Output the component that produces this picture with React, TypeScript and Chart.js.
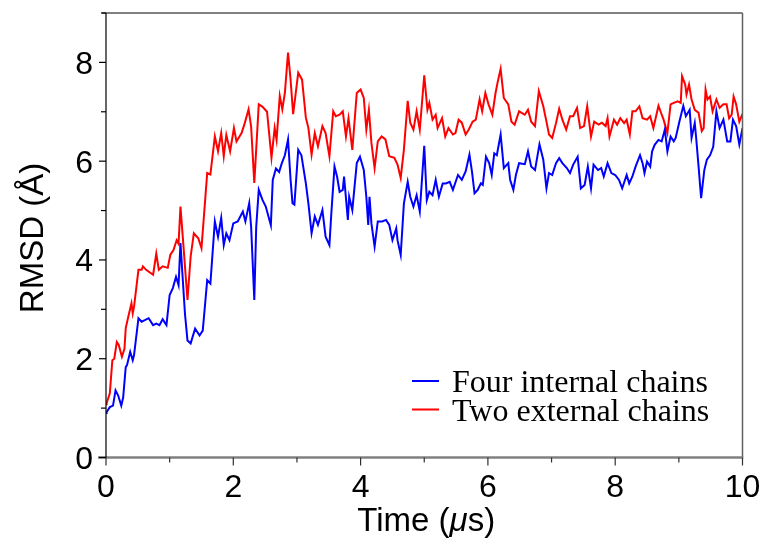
import React, { useEffect, useRef } from "react";
import { Chart, registerables } from "chart.js";

Chart.register(...registerables);

const redTimes = [
  0.0, 0.01, 0.06, 0.1, 0.13, 0.17, 0.2, 0.25, 0.29, 0.31, 0.35, 0.4, 0.42, 0.44, 0.51, 0.56, 0.58, 0.63, 0.74, 0.79,
  0.83, 0.89, 0.97, 1.01, 1.06, 1.11, 1.14, 1.17, 1.21, 1.28, 1.33, 1.38, 1.45, 1.5, 1.55, 1.59, 1.64, 1.71, 1.76, 1.81,
  1.85, 1.89, 1.95, 2.01, 2.05, 2.13, 2.18, 2.24, 2.28, 2.33, 2.4, 2.46, 2.53, 2.6, 2.65, 2.68, 2.73, 2.77, 2.81, 2.86,
  2.9, 2.94, 3.02, 3.08, 3.14, 3.18, 3.23, 3.28, 3.33, 3.4, 3.45, 3.51, 3.57, 3.61, 3.67, 3.72, 3.77, 3.81, 3.87, 3.94,
  4.0, 4.05, 4.09, 4.13, 4.17, 4.22, 4.27, 4.33, 4.39, 4.45, 4.53, 4.58, 4.63, 4.68, 4.74, 4.78, 4.83, 4.88, 4.93, 5.0,
  5.05, 5.08, 5.13, 5.18, 5.21, 5.28, 5.33, 5.38, 5.45, 5.49, 5.54, 5.59, 5.65, 5.7, 5.76, 5.81, 5.87, 5.91, 5.96, 6.01,
  6.07, 6.12, 6.15, 6.2, 6.25, 6.32, 6.37, 6.42, 6.49, 6.58, 6.63, 6.68, 6.74, 6.8, 6.87, 6.92, 6.96, 7.01, 7.07, 7.12,
  7.17, 7.23, 7.29, 7.34, 7.4, 7.45, 7.51, 7.56, 7.62, 7.67, 7.74, 7.79, 7.85, 7.88, 7.91, 7.98, 8.03, 8.08, 8.14, 8.18,
  8.23, 8.27, 8.32, 8.38, 8.43, 8.5, 8.55, 8.6, 8.68, 8.72, 8.76, 8.82, 8.87, 8.92, 8.98, 9.03, 9.05, 9.1, 9.12, 9.16,
  9.2, 9.25, 9.31, 9.36, 9.39, 9.42, 9.45, 9.49, 9.53, 9.59, 9.64, 9.7, 9.75, 9.79, 9.83, 9.86, 9.9, 9.95, 10.0,
];
const redValues = [
  1.08, 1.1, 1.3, 1.97, 2.0, 2.34, 2.28, 2.04, 2.2, 2.62, 2.85, 3.12, 2.92, 3.05, 3.8, 3.8, 3.87, 3.8, 3.7, 4.13,
  3.8, 3.87, 3.84, 4.1, 4.2, 4.4, 4.33, 5.08, 4.4, 3.19, 4.07, 4.54, 4.44, 4.24, 5.08, 5.76, 5.73, 6.5, 6.2, 6.57,
  6.1, 6.53, 6.2, 6.67, 6.4, 6.57, 6.77, 7.05, 6.7, 5.56, 7.15, 7.1, 7.0, 6.07, 6.67, 6.43, 7.32, 7.05, 7.38, 8.2,
  7.65, 6.95, 7.79, 7.65, 6.88, 6.67, 6.13, 6.57, 6.3, 6.71, 6.57, 6.1, 7.01, 6.91, 6.94, 7.01, 6.5, 6.87, 6.23, 7.38,
  7.45, 7.28, 6.64, 7.04, 6.37, 5.86, 6.4, 6.5, 6.44, 6.1, 6.07, 5.93, 5.66, 6.23, 7.22, 6.78, 6.64, 7.01, 6.64, 7.74,
  7.04, 7.18, 6.84, 6.94, 6.67, 6.87, 6.5, 6.67, 6.54, 6.57, 6.84, 6.78, 6.54, 6.64, 6.8, 6.84, 7.25, 7.01, 7.38, 7.15,
  6.94, 7.38, 7.58, 7.87, 7.28, 7.15, 6.8, 6.74, 7.01, 6.94, 7.04, 6.8, 6.71, 7.42, 7.11, 6.8, 6.54, 6.47, 6.77, 7.06,
  6.84, 6.64, 6.91, 6.91, 7.08, 6.67, 6.71, 7.11, 6.5, 6.8, 6.74, 6.78, 6.71, 6.87, 6.5, 6.84, 6.74, 6.87, 6.77, 6.84,
  6.54, 7.01, 7.01, 7.11, 6.87, 6.84, 6.91, 6.67, 7.12, 6.98, 6.84, 6.57, 7.15, 7.18, 7.21, 7.18, 7.72, 7.55, 7.35, 7.55,
  7.25, 7.04, 6.98, 6.61, 6.67, 7.45, 7.25, 7.31, 7.01, 7.25, 7.08, 7.15, 7.15, 6.87, 6.94, 7.31, 7.15, 6.8, 6.96,
];

const blueTimes = [
  0.0, 0.01, 0.06, 0.11, 0.15, 0.19, 0.24, 0.27, 0.31, 0.33, 0.38, 0.42, 0.44, 0.51, 0.56, 0.61, 0.67, 0.74, 0.79, 0.84,
  0.89, 0.95, 1.0, 1.05, 1.1, 1.14, 1.17, 1.2, 1.24, 1.28, 1.33, 1.4, 1.47, 1.52, 1.59, 1.64, 1.71, 1.76, 1.81, 1.85,
  1.89, 1.94, 2.0, 2.07, 2.15, 2.19, 2.25, 2.28, 2.33, 2.36, 2.4, 2.46, 2.51, 2.59, 2.62, 2.67, 2.72, 2.76, 2.81, 2.86,
  2.9, 2.93, 2.96, 3.02, 3.07, 3.14, 3.18, 3.23, 3.28, 3.33, 3.4, 3.45, 3.51, 3.54, 3.59, 3.63, 3.67, 3.72, 3.74, 3.8,
  3.82, 3.87, 3.9, 3.94, 3.99, 4.05, 4.09, 4.12, 4.14, 4.17, 4.22, 4.27, 4.34, 4.4, 4.45, 4.5, 4.56, 4.58, 4.63, 4.68,
  4.74, 4.78, 4.83, 4.88, 4.93, 5.0, 5.04, 5.08, 5.13, 5.18, 5.23, 5.29, 5.34, 5.4, 5.45, 5.53, 5.59, 5.65, 5.71, 5.75,
  5.79, 5.84, 5.89, 5.92, 5.97, 6.02, 6.06, 6.1, 6.14, 6.2, 6.25, 6.32, 6.35, 6.4, 6.44, 6.49, 6.58, 6.63, 6.68, 6.74,
  6.81, 6.87, 6.92, 6.96, 7.01, 7.07, 7.12, 7.17, 7.24, 7.29, 7.34, 7.41, 7.46, 7.52, 7.57, 7.62, 7.66, 7.73, 7.78, 7.82,
  7.88, 7.94, 8.0, 8.06, 8.11, 8.18, 8.22, 8.27, 8.32, 8.39, 8.43, 8.46, 8.5, 8.55, 8.58, 8.62, 8.68, 8.73, 8.78, 8.82,
  8.87, 8.92, 8.95, 9.01, 9.07, 9.11, 9.17, 9.2, 9.25, 9.27, 9.31, 9.35, 9.4, 9.44, 9.49, 9.54, 9.59, 9.64, 9.7, 9.76,
  9.81, 9.85, 9.9, 9.95, 10.0,
];
const blueValues = [
  0.9, 0.92, 1.02, 1.05, 1.36, 1.26, 1.05, 1.22, 1.83, 1.87, 2.14, 1.97, 2.07, 2.82, 2.75, 2.78, 2.82, 2.68, 2.71, 2.68,
  2.8, 2.68, 3.29, 3.43, 3.66, 3.49, 4.34, 3.73, 2.92, 2.37, 2.31, 2.61, 2.47, 2.57, 3.59, 3.52, 4.78, 4.47, 4.85, 4.3,
  4.54, 4.4, 4.74, 4.78, 4.98, 4.78, 5.15, 4.67, 3.19, 4.67, 5.42, 5.21, 5.08, 4.7, 5.62, 5.85, 5.78, 5.95, 6.12, 6.44,
  5.62, 5.15, 5.12, 6.23, 6.12, 5.55, 5.14, 4.54, 4.88, 4.71, 5.01, 4.47, 4.3, 4.94, 5.89, 5.69, 5.38, 5.42, 5.69, 4.81,
  5.28, 5.01, 5.42, 5.96, 6.09, 5.82, 5.28, 4.71, 5.28, 4.74, 4.27, 4.78, 4.78, 4.81, 4.71, 4.4, 4.64, 4.4, 4.1, 5.14,
  5.58, 5.28, 5.08, 5.31, 4.98, 6.31, 5.21, 5.38, 5.31, 5.62, 5.28, 5.55, 5.55, 5.58, 5.42, 5.72, 5.62, 5.79, 6.13, 5.79,
  5.35, 5.42, 5.55, 5.52, 6.09, 5.96, 5.72, 6.16, 6.12, 6.54, 5.86, 5.96, 5.62, 5.42, 5.72, 5.96, 5.94, 6.2, 5.89, 5.82,
  6.34, 6.03, 5.45, 5.76, 5.72, 5.96, 6.06, 5.96, 5.86, 5.76, 5.93, 6.09, 5.45, 5.52, 5.89, 5.45, 5.93, 5.82, 5.86, 5.69,
  5.96, 5.76, 5.72, 5.62, 5.45, 5.72, 5.55, 5.69, 5.89, 6.12, 5.96, 5.76, 5.99, 5.89, 6.2, 6.33, 6.43, 6.4, 6.64, 6.2,
  6.5, 6.4, 6.47, 6.81, 7.12, 6.91, 7.04, 6.47, 6.77, 6.5, 5.89, 5.25, 5.82, 6.03, 6.12, 6.29, 7.01, 6.67, 6.84, 6.4,
  6.4, 6.84, 6.71, 6.34, 6.67,
];

const xTickValues = [0, 1, 2, 3, 4, 5, 6, 7, 8, 9, 10];
const yTickValues = [0, 1, 2, 3, 4, 5, 6, 7, 8, 9];
const xLabelValues = [0, 2, 4, 6, 8, 10];
const yLabelValues = [0, 2, 4, 6, 8];
const seriesLabels = ["Four internal chains", "Two external chains"];
const seriesColors = ["#0000ff", "#ff0000"];

const SANS = '"Liberation Sans", Arial, Helvetica, sans-serif';
const SERIF = '"Liberation Serif", "Times New Roman", serif';

const decorPlugin = {
  id: "decor",
  afterDraw(chart: any) {
    const { ctx, chartArea, scales } = chart;
    const { left, right, top, bottom } = chartArea;
    const xs = scales.x;
    const ys = scales.y;
    ctx.save();

    // frame
    ctx.lineCap = "butt";
    ctx.strokeStyle = "#808080";
    ctx.lineWidth = 2;
    ctx.beginPath();
    ctx.moveTo(left - 4, top);
    ctx.lineTo(right, top);
    ctx.stroke();
    ctx.lineWidth = 1.5;
    ctx.strokeStyle = "#606060";
    ctx.beginPath();
    ctx.moveTo(right, top);
    ctx.lineTo(right, bottom);
    ctx.stroke();
    ctx.strokeStyle = "#808080";
    ctx.lineWidth = 2.5;
    ctx.beginPath();
    ctx.moveTo(left - 8, bottom);
    ctx.lineTo(right + 0.75, bottom);
    ctx.stroke();
    ctx.strokeStyle = "#000000";
    ctx.lineWidth = 1.2;
    ctx.beginPath();
    ctx.moveTo(left, top);
    ctx.lineTo(left, bottom);
    ctx.stroke();

    // y ticks
    ctx.strokeStyle = "#000000";
    ctx.lineWidth = 1.2;
    for (const v of yTickValues) {
      const py = ys.getPixelForValue(v);
      const len = v % 2 === 0 ? 7 : 5;
      ctx.beginPath();
      ctx.moveTo(left - len, py);
      ctx.lineTo(left, py);
      ctx.stroke();
    }
    // x ticks
    ctx.strokeStyle = "#303030";
    for (const v of xTickValues) {
      const px = xs.getPixelForValue(v);
      const len = v % 2 === 0 ? 8 : 5;
      ctx.beginPath();
      ctx.moveTo(px, bottom);
      ctx.lineTo(px, bottom + len);
      ctx.stroke();
    }

    // tick labels
    ctx.fillStyle = "#000000";
    ctx.font = `32px ${SANS}`;
    ctx.textAlign = "right";
    ctx.textBaseline = "alphabetic";
    for (const v of yLabelValues) {
      const py = ys.getPixelForValue(v);
      ctx.fillText(String(v), left - 13, py + 11.5);
    }
    ctx.textAlign = "center";
    for (const v of xLabelValues) {
      const px = xs.getPixelForValue(v);
      ctx.fillText(String(v), px, 497);
    }

    // x title with italic mu
    const cx = (left + right) / 2 + 2;
    const partA = "Time (";
    const partB = "\u03bc";
    const partC = "s)";
    ctx.font = `33px ${SANS}`;
    const wA = ctx.measureText(partA).width;
    const wC = ctx.measureText(partC).width;
    ctx.font = `italic 33px ${SANS}`;
    const wB = ctx.measureText(partB).width;
    const total = wA + wB + wC;
    const x0 = cx - total / 2;
    ctx.textAlign = "left";
    ctx.font = `33px ${SANS}`;
    ctx.fillText(partA, x0, 531);
    ctx.font = `italic 33px ${SANS}`;
    ctx.fillText(partB, x0 + wA, 531);
    ctx.font = `33px ${SANS}`;
    ctx.fillText(partC, x0 + wA + wB, 531);

    // y title
    ctx.save();
    ctx.translate(43, 238);
    ctx.rotate(-Math.PI / 2);
    ctx.textAlign = "center";
    ctx.font = `33px ${SANS}`;
    ctx.fillText("RMSD (\u00c5)", 0, 0);
    ctx.restore();

    // legend
    const ds = chart.data.datasets;
    const order = [0, 1];
    order.forEach((i, k) => {
      const ly = 381 + k * 28.5;
      ctx.strokeStyle = ds[i].borderColor;
      ctx.lineWidth = 2;
      ctx.beginPath();
      ctx.moveTo(412, ly);
      ctx.lineTo(439, ly);
      ctx.stroke();
      ctx.fillStyle = "#000000";
      ctx.font = `32px ${SERIF}`;
      ctx.textAlign = "left";
      ctx.fillText(ds[i].label, 452, ly + 11);
    });

    ctx.restore();
  },
};

export default function App() {
  const canvasRef = useRef<HTMLCanvasElement | null>(null);

  useEffect(() => {
    document.body.style.margin = "0";
    const canvas = canvasRef.current;
    if (!canvas) return;
    const blueData = blueTimes.map((t, i) => ({ x: t, y: blueValues[i] }));
    const redData = redTimes.map((t, i) => ({ x: t, y: redValues[i] }));
    const chart = new Chart(canvas, {
      type: "line",
      data: {
        datasets: [
          {
            label: seriesLabels[0],
            data: blueData,
            borderColor: seriesColors[0],
            backgroundColor: seriesColors[0],
            borderWidth: 2,
            pointRadius: 0,
            tension: 0,
          },
          {
            label: seriesLabels[1],
            data: redData,
            borderColor: seriesColors[1],
            backgroundColor: seriesColors[1],
            borderWidth: 2,
            pointRadius: 0,
            tension: 0,
          },
        ],
      },
      options: {
        animation: false,
        responsive: false,
        devicePixelRatio: 1,
        layout: { padding: { left: 106, right: 24.5, top: 13, bottom: 88.5 } },
        scales: {
          x: { type: "linear", min: 0, max: 10, display: false },
          y: { type: "linear", min: 0, max: 9, display: false },
        },
        plugins: {
          legend: { display: false },
          tooltip: { enabled: false },
        },
        events: [],
      },
      plugins: [decorPlugin],
    });
    return () => chart.destroy();
  }, []);

  return (
    <div style={{ width: 767, height: 546, background: "#ffffff" }}>
      <canvas ref={canvasRef} width={767} height={546} style={{ display: "block" }} />
    </div>
  );
}
